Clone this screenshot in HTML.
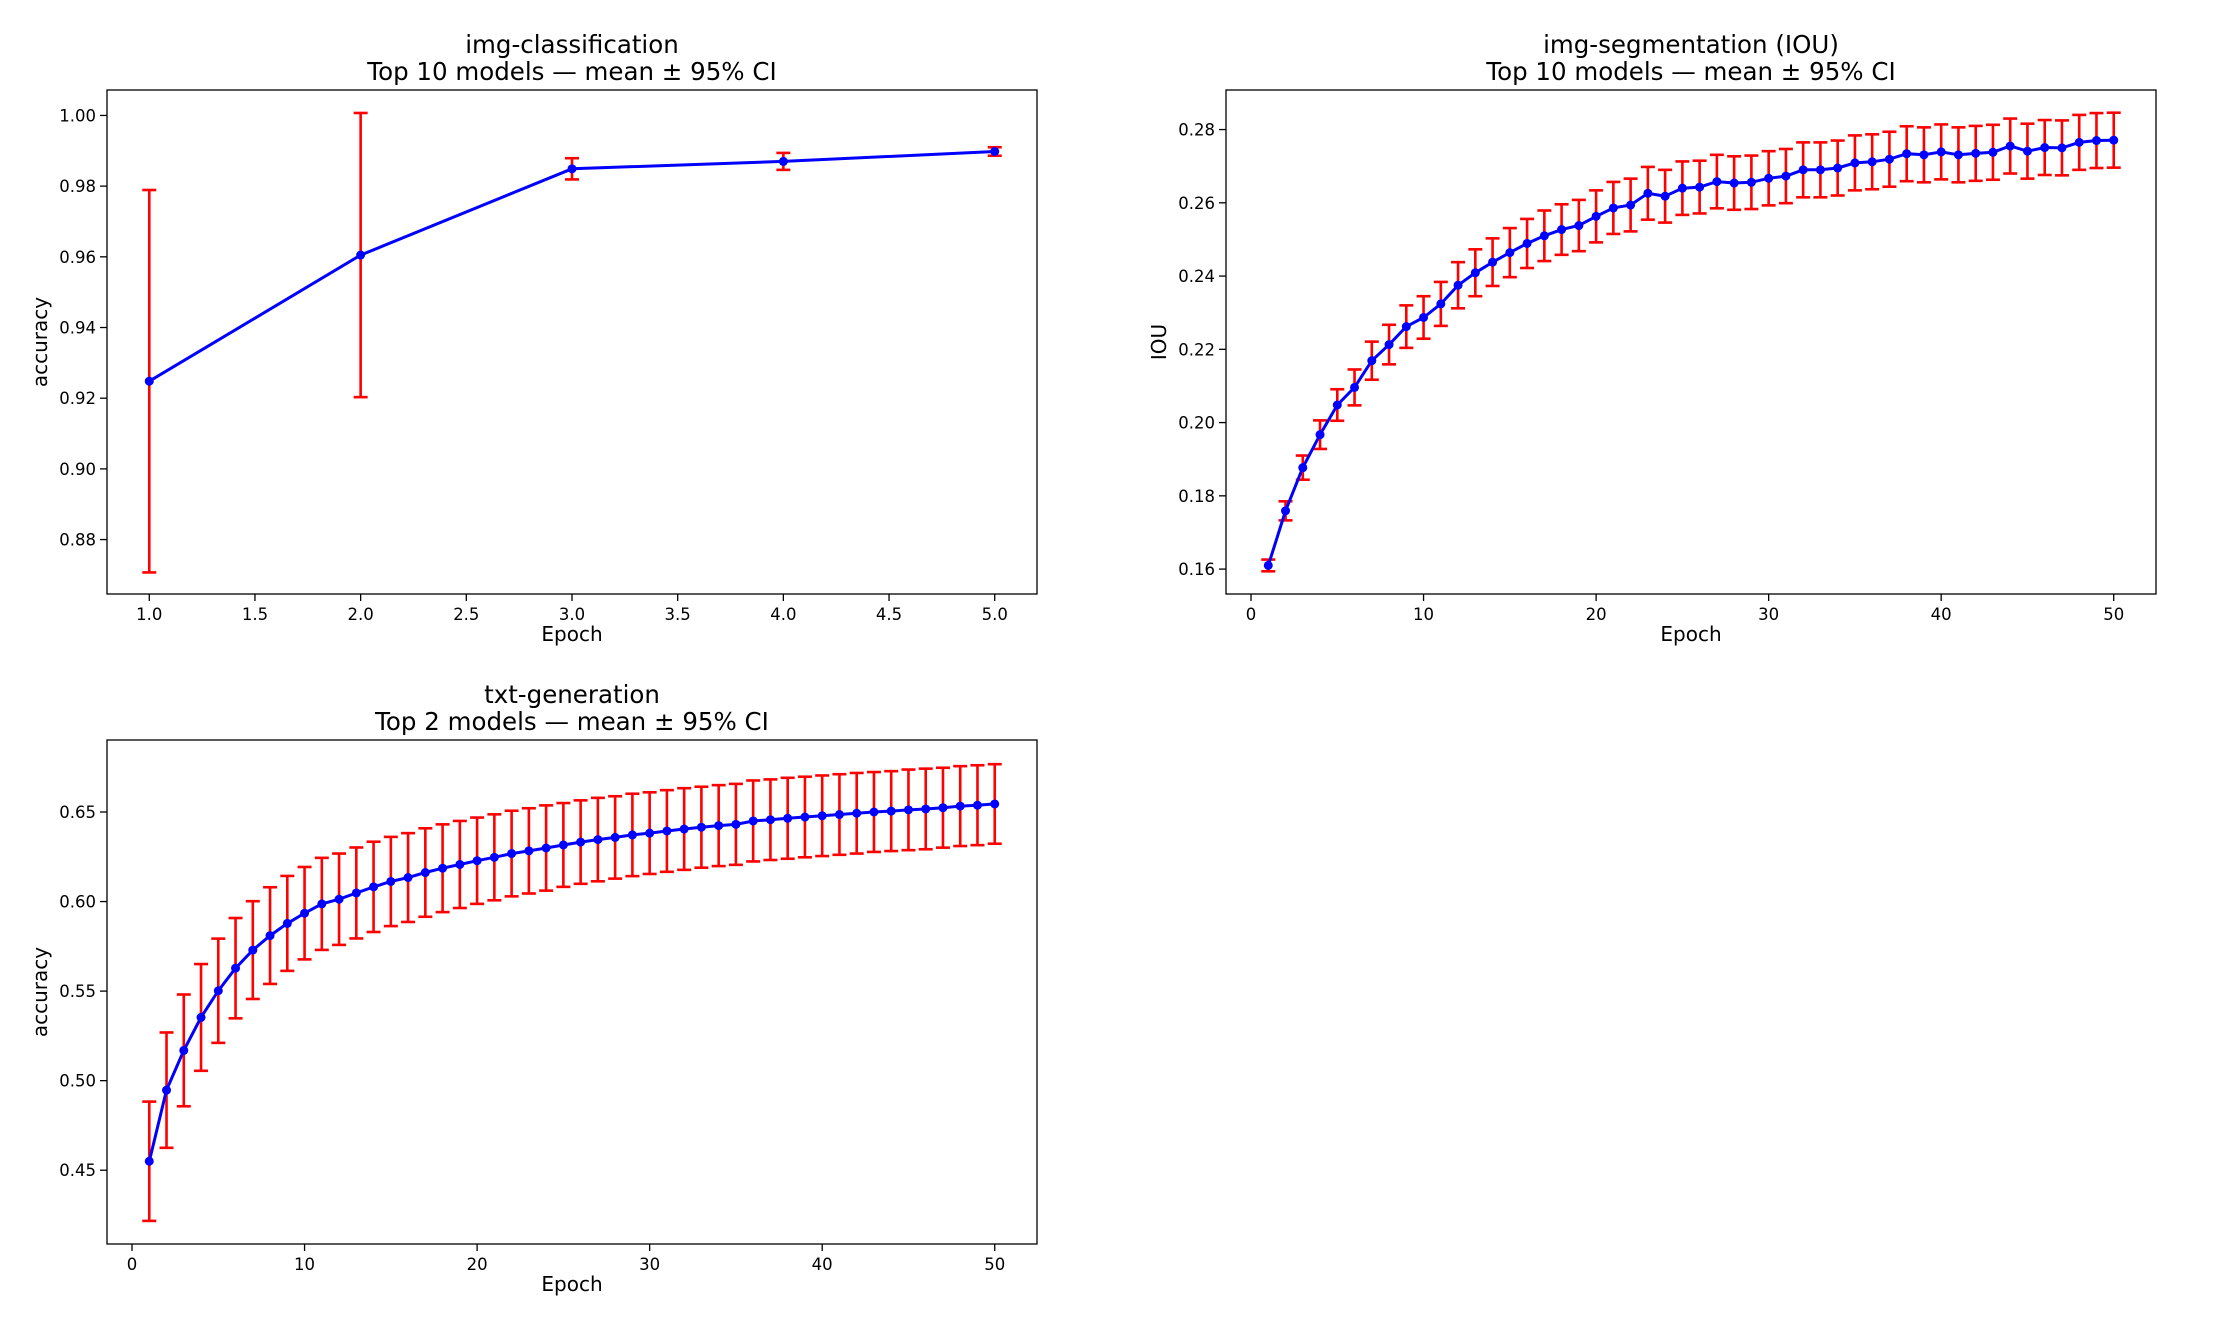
<!DOCTYPE html>
<html><head><meta charset="utf-8"><style>
html,body{margin:0;padding:0;background:#fff;}
svg{display:block;font-family:"DejaVu Sans","Liberation Sans",sans-serif;}
</style></head><body>
<svg id="fig" width="2226" height="1331" viewBox="0 0 2226 1331" xmlns="http://www.w3.org/2000/svg"></svg>
<script>
const clsEpochs=[1,2,3,4,5];
const clsMean=[0.9248,0.9605,0.9849,0.9870,0.9898];
const clsErr=[0.0541,0.0402,0.0030,0.0024,0.0012];
const clsXTicks=[1.0,1.5,2.0,2.5,3.0,3.5,4.0,4.5,5.0];
const clsYTicks=[0.88,0.90,0.92,0.94,0.96,0.98,1.00];

const segMean=[0.161,0.1759,0.1877,0.1967,0.2048,0.2096,0.2169,0.2213,0.2262,0.2287,0.2324,0.2375,0.2409,0.2438,0.2464,0.2489,0.2510,0.2527,0.2538,0.2563,0.2586,0.2594,0.2626,0.2618,0.2640,0.2643,0.2658,0.2654,0.2656,0.2667,0.2673,0.2690,0.2690,0.2695,0.2709,0.2712,0.2719,0.2734,0.2731,0.2739,0.2731,0.2735,0.2738,0.2755,0.2741,0.2751,0.2750,0.2765,0.2770,0.2771];
const segErr=[0.0016,0.0026,0.0033,0.0039,0.0043,0.0049,0.0052,0.0054,0.0058,0.0058,0.0060,0.0063,0.0064,0.0065,0.0067,0.0067,0.0069,0.0069,0.0070,0.0071,0.0071,0.0072,0.0072,0.0072,0.0073,0.0072,0.0073,0.0073,0.0073,0.0074,0.0074,0.0075,0.0075,0.0075,0.0075,0.0075,0.0075,0.0075,0.0075,0.0075,0.0075,0.0075,0.0075,0.0075,0.0075,0.0075,0.0075,0.0075,0.0075,0.0075];
const segXTicks=[0,10,20,30,40,50];
const segYTicks=[0.16,0.18,0.20,0.22,0.24,0.26,0.28];

const txtMean=[0.455,0.4947,0.5169,0.5353,0.5502,0.5628,0.5729,0.5810,0.5878,0.5935,0.5987,0.6013,0.6048,0.6082,0.6112,0.6134,0.6162,0.6186,0.6207,0.6228,0.6247,0.6268,0.6283,0.6299,0.6316,0.6332,0.6346,0.6358,0.6372,0.6382,0.6394,0.6405,0.6415,0.6424,0.6431,0.6450,0.6457,0.6465,0.6472,0.6479,0.6486,0.6493,0.6500,0.6505,0.6512,0.6517,0.6524,0.6533,0.6538,0.6545];
const txtErr=[0.0333,0.0322,0.0312,0.0298,0.0291,0.0280,0.0273,0.0270,0.0265,0.0258,0.0257,0.0255,0.0254,0.0252,0.0249,0.0248,0.0247,0.0245,0.0243,0.0241,0.0240,0.0239,0.0238,0.0238,0.0234,0.0233,0.0233,0.0230,0.0230,0.0228,0.0228,0.0228,0.0226,0.0226,0.0226,0.0226,0.0225,0.0226,0.0225,0.0225,0.0225,0.0225,0.0223,0.0223,0.0225,0.0225,0.0223,0.0223,0.0223,0.0222];
const txtXTicks=[0,10,20,30,40,50];
const txtYTicks=[0.45,0.50,0.55,0.60,0.65];

const NS="http://www.w3.org/2000/svg";
const svg=document.getElementById('fig');
function mk(tag,attrs,parent){const e=document.createElementNS(NS,tag);for(const k in attrs)e.setAttribute(k,attrs[k]);(parent||svg).appendChild(e);return e;}
function txt(s,attrs,parent){const e=mk('text',attrs,parent);e.textContent=s;return e;}

function panel(o){
  const g=mk('g',{});
  
  
  const L=o.box[0],R=o.box[1],T=o.box[2],B=o.box[3];
  const xs=v=>L+(v-o.xlim[0])/(o.xlim[1]-o.xlim[0])*(R-L);
  const ys=v=>B-(v-o.ylim[0])/(o.ylim[1]-o.ylim[0])*(B-T);
  const t1=txt(o.title[0],{x:(L+R)/2,y:T-37,'text-anchor':'middle','font-size':24.5},g);
  
  
  const t2=txt(o.title[1],{x:(L+R)/2,y:T-10,'text-anchor':'middle','font-size':24.5},g);
  
  
  o.xticks.forEach(v=>{const x=xs(v);
    mk('line',{x1:x,x2:x,y1:B,y2:B+7,stroke:'#000','stroke-width':1.3},g);
    const t=txt(o.xfmt(v),{x:x,y:B+26,'text-anchor':'middle','font-size':16.5},g);
    
    });
  o.yticks.forEach(v=>{const y=ys(v);
    mk('line',{x1:L-7,x2:L,y1:y,y2:y,stroke:'#000','stroke-width':1.3},g);
    const t=txt(v.toFixed(2),{x:L-11,y:y+6,'text-anchor':'end','font-size':16.5},g);
    
    });
  const xl=txt('Epoch',{x:(L+R)/2,y:B+47,'text-anchor':'middle','font-size':20},g);
  
  
  const yx=L-60,yy=(T+B)/2;
  const yl=txt(o.ylabel,{x:yx,y:yy,'text-anchor':'middle','font-size':20,transform:`rotate(-90 ${yx} ${yy})`},g);
  
  
  o.mean.forEach((m,i)=>{const x=xs(o.x[i]);const y1=ys(m-o.err[i]),y2=ys(m+o.err[i]);
    const eb=mk('g',{stroke:'#ff0000','stroke-width':2.6},g);
    
    
    mk('line',{x1:x,x2:x,y1:y1,y2:y2},eb);
    mk('line',{x1:x-7,x2:x+7,y1:y1,y2:y1},eb);
    mk('line',{x1:x-7,x2:x+7,y1:y2,y2:y2},eb);});
  const pts=o.mean.map((m,i)=>xs(o.x[i]).toFixed(1)+','+ys(m).toFixed(1)).join(' ');
  const pl=mk('polyline',{points:pts,fill:'none',stroke:'#0000ff','stroke-width':3},g);
  
  
  o.mean.forEach((m,i)=>{const c=mk('circle',{cx:xs(o.x[i]),cy:ys(m),r:4.5,fill:'#0000ff'},g);
    
    });
  const fr=mk('rect',{x:L,y:T,width:R-L,height:B-T,fill:'none',stroke:'#000','stroke-width':1.3},g);
  
  
}
const ep50=segMean.map((_,i)=>i+1);
panel({name:'img-classification-chart',box:[107,1037,90,594],xlim:[0.8,5.2],ylim:[0.8646,1.0072],
  title:['img-classification','Top 10 models — mean ± 95% CI'],ylabel:'accuracy',
  x:clsEpochs,mean:clsMean,err:clsErr,xticks:clsXTicks,yticks:clsYTicks,xfmt:v=>v.toFixed(1)});
panel({name:'img-segmentation-chart',box:[1226,2156,90,594],xlim:[-1.45,52.45],ylim:[0.1532,0.2908],
  title:['img-segmentation (IOU)','Top 10 models — mean ± 95% CI'],ylabel:'IOU',
  x:ep50,mean:segMean,err:segErr,xticks:segXTicks,yticks:segYTicks,xfmt:v=>String(v)});
panel({name:'txt-generation-chart',box:[107,1037,740,1244],xlim:[-1.45,52.45],ylim:[0.4088,0.6902],
  title:['txt-generation','Top 2 models — mean ± 95% CI'],ylabel:'accuracy',
  x:txtMean.map((_,i)=>i+1),mean:txtMean,err:txtErr,xticks:txtXTicks,yticks:txtYTicks,xfmt:v=>String(v)});
</script>
</body></html>
